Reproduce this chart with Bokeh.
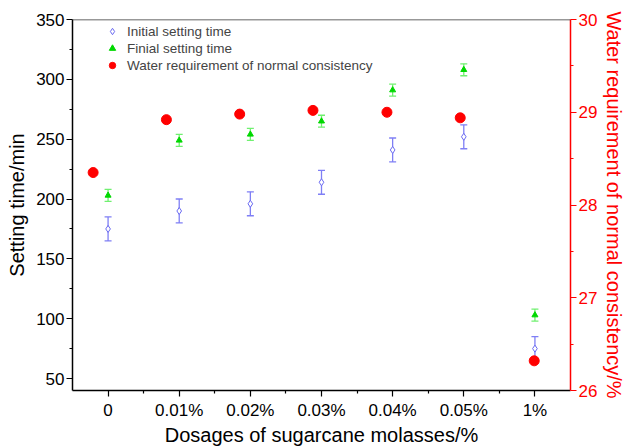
from bokeh.plotting import figure
from bokeh.models import (Range1d, LinearAxis, FixedTicker, Whisker, ColumnDataSource,
                          Legend, LegendItem, Span, TeeHead)
from bokeh.embed import file_html
from bokeh.resources import INLINE

# ---- data ----
categories = ["0", "0.01%", "0.02%", "0.03%", "0.04%", "0.05%", "1%"]
cat_pos = [0, 1, 2, 3, 4, 5, 6]
initial_time = [175, 190, 196, 214, 241, 252, 75]
initial_err = [10, 10, 10, 10, 10, 10, 10]
final_time = [203, 249, 254, 265, 291, 308, 103]
final_err = [5, 5, 5, 5, 5, 5, 5]
water_x = [-0.21, 0.82, 1.85, 2.88, 3.92, 4.95, 5.99]
water_req = [28.35, 28.92, 28.98, 29.02, 29.00, 28.94, 26.32]

FONT = "Liberation Sans"
BLUE = "#6a6af2"
BLUE_ERR = "#7f7ff5"
GREEN = "#00d800"
GREEN_ERR = "#70f070"
RED = "#ff0000"

src_i = ColumnDataSource(dict(x=cat_pos, y=initial_time,
                              lo=[a - b for a, b in zip(initial_time, initial_err)],
                              hi=[a + b for a, b in zip(initial_time, initial_err)]))
src_f = ColumnDataSource(dict(x=cat_pos, y=final_time,
                              lo=[a - b for a, b in zip(final_time, final_err)],
                              hi=[a + b for a, b in zip(final_time, final_err)]))
src_w = ColumnDataSource(dict(x=water_x, y=water_req))

p = figure(width=628, height=448, output_backend="svg", toolbar_location=None,
           x_range=Range1d(-0.5, 6.5), y_range=Range1d(40, 350),
           min_border_left=72, min_border_right=56, min_border_top=19, min_border_bottom=56)
p.extra_y_ranges = {"water": Range1d(26, 30)}
p.xgrid.visible = False
p.ygrid.visible = False
p.outline_line_color = None
p.background_fill_color = "white"
p.border_fill_color = "white"

def style_axis(ax, color="#000000"):
    ax.axis_line_color = color
    ax.axis_line_width = 1.5
    ax.major_tick_line_color = color
    ax.minor_tick_line_color = color
    ax.major_tick_line_width = 1.2
    ax.minor_tick_line_width = 1.2
    ax.major_tick_in = 0
    ax.major_tick_out = 6
    ax.minor_tick_in = 0
    ax.minor_tick_out = 3
    ax.major_label_text_font = FONT
    ax.major_label_text_font_size = "17px"
    ax.major_label_text_color = color
    ax.major_label_standoff = 2
    ax.axis_label_text_font = FONT
    ax.axis_label_text_font_size = "20px"
    ax.axis_label_text_font_style = "normal"
    ax.axis_label_text_color = color
    ax.axis_label_standoff = 5

xa = p.xaxis[0]
style_axis(xa)
xa.ticker = FixedTicker(ticks=cat_pos, minor_ticks=[0.5, 1.5, 2.5, 3.5, 4.5, 5.5])
xa.major_label_overrides = {c: l for c, l in zip(cat_pos, categories)}
xa.axis_label = "Dosages of sugarcane molasses/%"
xa.major_label_standoff = 4
xa.axis_label_standoff = 1

ya = p.yaxis[0]
style_axis(ya)
ya.ticker = FixedTicker(ticks=[50, 100, 150, 200, 250, 300, 350],
                        minor_ticks=[75, 125, 175, 225, 275, 325])
ya.axis_label = "Setting time/min"

ry = LinearAxis(y_range_name="water", axis_label="Water requirement of normal consistency/%")
style_axis(ry, RED)
ry.ticker = FixedTicker(ticks=[26, 27, 28, 29, 30], minor_ticks=[26.5, 27.5, 28.5, 29.5])
ry.major_label_standoff = 2
ry.axis_label_standoff = 3
p.add_layout(ry, "right")

p.add_layout(Span(location=350, dimension="width", line_color="#333333", line_width=1.5))

# error bars
p.add_layout(Whisker(source=src_i, base="x", lower="lo", upper="hi",
                     line_color=BLUE_ERR, line_width=1.3,
                     upper_head=TeeHead(size=7, line_color=BLUE_ERR, line_width=1.3),
                     lower_head=TeeHead(size=7, line_color=BLUE_ERR, line_width=1.3)))
p.add_layout(Whisker(source=src_f, base="x", lower="lo", upper="hi",
                     line_color=GREEN_ERR, line_width=1.3,
                     upper_head=TeeHead(size=7, line_color=GREEN_ERR, line_width=1.3),
                     lower_head=TeeHead(size=7, line_color=GREEN_ERR, line_width=1.3)))

r_i = p.scatter("x", "y", source=src_i, marker="diamond", size=7,
                fill_color="white", line_color=BLUE, line_width=1)
r_f = p.scatter("x", "y", source=src_f, marker="triangle", size=6,
                fill_color=GREEN, line_color=GREEN, line_width=1)
r_w = p.scatter("x", "y", source=src_w, marker="circle", size=10,
                fill_color=RED, line_color=RED, y_range_name="water")

legend = Legend(items=[LegendItem(label="Initial setting time", renderers=[r_i]),
                       LegendItem(label="Finial setting time", renderers=[r_f]),
                       LegendItem(label="Water requirement of normal consistency", renderers=[r_w])],
                location=(30, 317), margin=0, padding=0, spacing=1,
                glyph_width=20, glyph_height=16, label_height=16, label_standoff=5,
                label_text_font=FONT, label_text_font_size="13.5px",
                border_line_color=None, background_fill_alpha=0)
p.add_layout(legend)

open("out.html", "w").write(file_html(p, INLINE))
